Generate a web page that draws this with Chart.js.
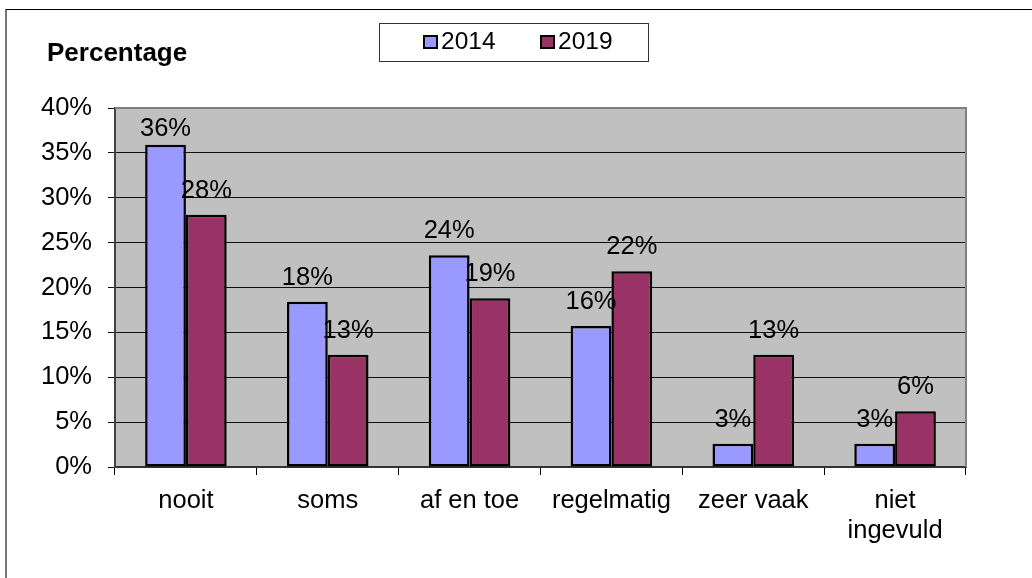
<!DOCTYPE html>
<html>
<head>
<meta charset="utf-8">
<script src="https://cdn.jsdelivr.net/npm/chart.js@4/dist/chart.umd.min.js"></script>
<style>
  body { margin: 0; background: #fff; overflow: hidden; }
  #wrap { position: relative; width: 1032px; height: 578px; }
  #frame { position: absolute; left: 5px; top: 9px; width: 1100px; height: 700px;
           border-top: 1px solid #000; border-left: 2px solid #777; }
  #c { position: absolute; left: 0; top: 0; }
</style>
</head>
<body>
<div id="wrap">
  <div id="frame"></div>
  <canvas id="c" width="1032" height="578"></canvas>
</div>
<script>
var categories = ['nooit', 'soms', 'af en toe', 'regelmatig', 'zeer vaak', ['niet', 'ingevuld']];
var years = ['2014', '2019'];
var values2014 = [35.9, 18.4, 23.6, 15.7, 2.6, 2.6];
var values2019 = [28.1, 12.5, 18.8, 21.8, 12.5, 6.2];
var yTicks = [0, 5, 10, 15, 20, 25, 30, 35, 40];

var colors = ['#9999ff', '#993366'];
var FONT = '"Liberation Sans", Arial, sans-serif';

// gray plot background + gray top/right border like excel
var plotBg = {
  id: 'plotBg',
  beforeDraw: function(chart){
    var a = chart.chartArea, ctx = chart.ctx;
    ctx.save();
    ctx.fillStyle = '#c0c0c0';
    ctx.fillRect(a.left, a.top, a.right - a.left, a.bottom - a.top);
    ctx.restore();
  },
  afterDatasetsDraw: function(chart){
    var a = chart.chartArea, ctx = chart.ctx;
    ctx.save();
    ctx.strokeStyle = '#808080';
    ctx.lineWidth = 2;
    ctx.beginPath();
    ctx.moveTo(a.left, a.top);
    ctx.lineTo(a.right, a.top);
    ctx.lineTo(a.right, a.bottom);
    ctx.stroke();
    ctx.restore();
  }
};

// value labels above the bars
var barLabels = {
  id: 'barLabels',
  afterDatasetsDraw: function(chart){
    var ctx = chart.ctx, a = chart.chartArea;
    ctx.save();
    ctx.font = '25.5px ' + FONT;
    ctx.fillStyle = '#000';
    ctx.textAlign = 'center';
    ctx.textBaseline = 'alphabetic';
    chart.data.datasets.forEach(function(ds, i){
      var meta = chart.getDatasetMeta(i);
      meta.data.forEach(function(bar, j){
        var y = Math.max(bar.y - 17, a.top + 28);
        ctx.fillText(Math.round(ds.data[j]) + '%', bar.x, y);
      });
    });
    ctx.restore();
  }
};

// title + boxed legend
var headerBits = {
  id: 'headerBits',
  afterDraw: function(chart){
    var ctx = chart.ctx;
    ctx.save();
    ctx.fillStyle = '#000';
    ctx.textBaseline = 'alphabetic';
    ctx.textAlign = 'left';
    ctx.font = 'bold 26px ' + FONT;
    ctx.fillText('Percentage', 47, 61);

    ctx.strokeStyle = '#333';
    ctx.lineWidth = 1;
    ctx.strokeRect(379.5, 23.5, 269, 38);

    ctx.font = '24.5px ' + FONT;
    var xs = [424, 541];
    for(var i = 0; i < years.length; i++){
      ctx.fillStyle = colors[i];
      ctx.fillRect(xs[i], 36, 13, 12);
      ctx.strokeStyle = '#000';
      ctx.lineWidth = 2;
      ctx.strokeRect(xs[i], 36, 13, 12);
      ctx.fillStyle = '#000';
      ctx.fillText(years[i], xs[i] + 17, 49);
    }
    ctx.restore();
  }
};

var ctx = document.getElementById('c');
var chart = new Chart(ctx, {
  type: 'bar',
  data: {
    labels: categories,
    datasets: [{
      label: years[0],
      data: values2014,
      backgroundColor: colors[0],
      borderColor: '#000',
      borderWidth: 2.5,
      borderSkipped: false
    }, {
      label: years[1],
      data: values2019,
      backgroundColor: colors[1],
      borderColor: '#000',
      borderWidth: 2.5,
      borderSkipped: false
    }]
  },
  options: {
    responsive: false,
    animation: false,
    events: [],
    layout: { padding: { left: 0, top: 108, right: 66, bottom: 0 } },
    datasets: { bar: { categoryPercentage: 0.575, barPercentage: 1 } },
    plugins: {
      legend: { display: false },
      title: { display: false },
      tooltip: { enabled: false }
    },
    scales: {
      x: {
        grid: { drawOnChartArea: false, drawTicks: true, tickLength: 8, color: '#000', offset: true },
        border: { display: true, color: '#333', width: 2 },
        ticks: { color: '#000', padding: 11, maxRotation: 0, autoSkip: false,
                 font: { family: FONT, size: 25.5, lineHeight: 1.18 } },
        afterFit: function(s){ s.height = 111; }
      },
      y: {
        min: 0,
        max: 40,
        afterBuildTicks: function(s){ s.ticks = yTicks.map(function(v){ return { value: v }; }); },
        grid: { color: '#111', lineWidth: 1, tickLength: 7, drawTicks: true },
        border: { display: true, color: '#444', width: 2 },
        ticks: { color: '#000', padding: 16,
                 font: { family: FONT, size: 25.5 },
                 callback: function(v){ return v + '%'; } },
        afterFit: function(s){ s.width = 115; }
      }
    }
  },
  plugins: [plotBg, barLabels, headerBits]
});
</script>
</body>
</html>
